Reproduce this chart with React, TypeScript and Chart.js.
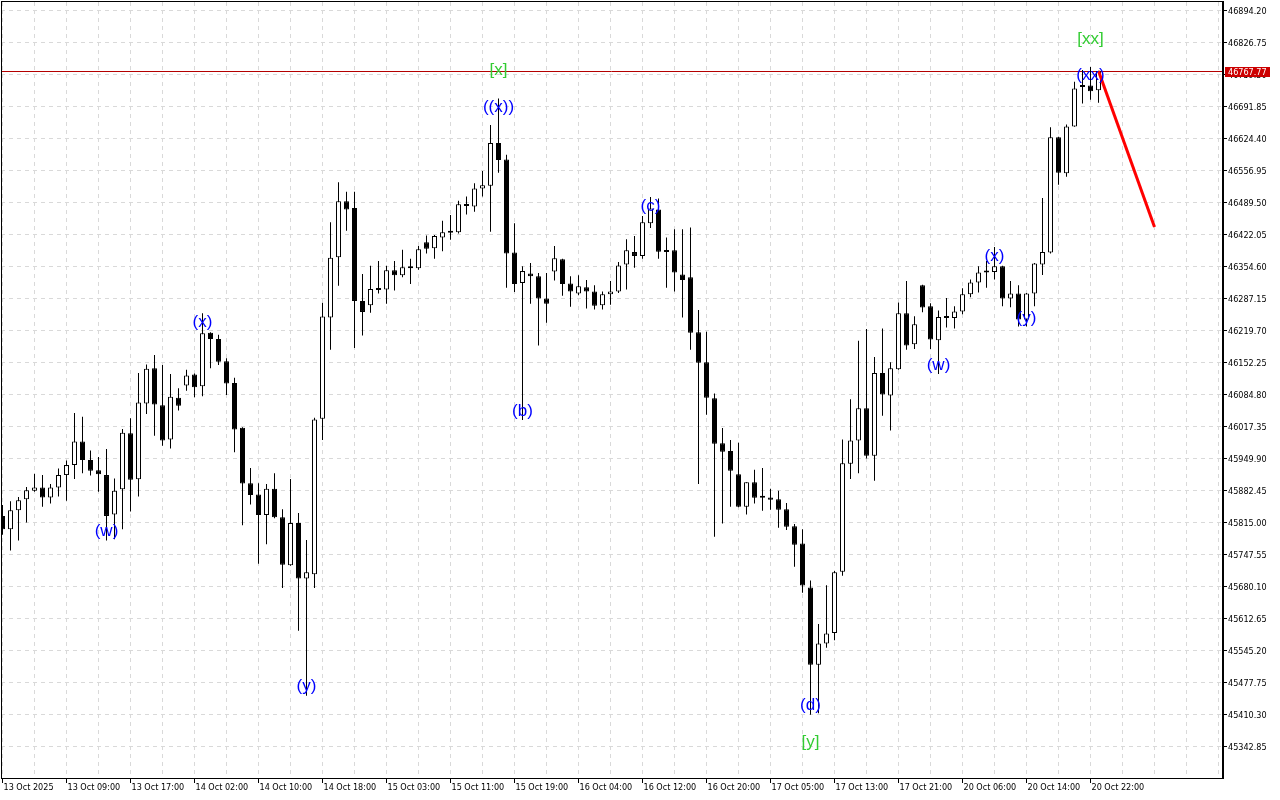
import React, { useEffect, useRef } from "react";
import { Chart, registerables } from "chart.js";

Chart.register(...registerables);

// ---- Data (hourly candles, index 0 = 13 Oct 2025 00:00) ----
const xTickLabels = [
  "13 Oct 2025", "13 Oct 09:00", "13 Oct 17:00", "14 Oct 02:00", "14 Oct 10:00", "14 Oct 18:00",
  "15 Oct 03:00", "15 Oct 11:00", "15 Oct 19:00", "16 Oct 04:00", "16 Oct 12:00", "16 Oct 20:00",
  "17 Oct 05:00", "17 Oct 13:00", "17 Oct 21:00", "20 Oct 06:00", "20 Oct 14:00", "20 Oct 22:00",
];

const yTickLabels = [
  "45342.85", "45410.30", "45477.75", "45545.20", "45612.65", "45680.10", "45747.55", "45815.00",
  "45882.45", "45949.90", "46017.35", "46084.80", "46152.25", "46219.70", "46287.15", "46354.60",
  "46422.05", "46489.50", "46556.95", "46624.40", "46691.85", "46759.30", "46826.75", "46894.20",
];

const opens = [
  45830, 45802, 45842, 45865, 45883, 45890, 45869, 45890, 45916, 45937,
  45987, 45948, 45926, 45916, 45833, 45886, 46004, 45907, 46067, 46141,
  46063, 45991, 46079, 46105, 46128, 46103, 46216, 46203, 46156, 46110,
  46016, 45899, 45875, 45832, 45887, 45827, 45726, 45815, 45698, 45707,
  46035, 46248, 46375, 46493, 46479, 46283, 46274, 46308, 46307, 46348,
  46337, 46354, 46352, 46407, 46394, 46417, 46429, 46428, 46485, 46482,
  46520, 46526, 46616, 46581, 46385, 46321, 46341, 46335, 46288, 46345,
  46371, 46320, 46299, 46312, 46303, 46274, 46297, 46303, 46360, 46386,
  46378, 46447, 46476, 46386, 46390, 46339, 46333, 46217, 46154, 46078,
  45983, 45967, 45918, 45849, 45901, 45871, 45869, 45865, 45844, 45808,
  45772, 45679, 45516, 45561, 45583, 45712, 45940, 45989, 46057, 45957,
  46131, 46084, 46139, 46257, 46192, 46316, 46272, 46200, 46251, 46247,
  46261, 46297, 46322, 46345, 46344, 46356, 46288, 46299, 46244, 46299,
  46360, 46385, 46628, 46552, 46651, 46736, 46737, 46727,
];

const highs = [
  45853, 45861, 45870, 45891, 45919, 45916, 45897, 45930, 45947, 46047,
  46039, 45968, 45954, 45971, 45909, 46013, 46036, 46131, 46149, 46169,
  46148, 46129, 46099, 46138, 46130, 46257, 46217, 46212, 46162, 46121,
  46017, 45931, 45899, 45897, 45920, 45844, 45908, 45836, 45779, 46037,
  46279, 46449, 46533, 46513, 46513, 46340, 46357, 46367, 46357, 46367,
  46391, 46372, 46399, 46421, 46422, 46452, 46464, 46494, 46503, 46531,
  46557, 46654, 46710, 46591, 46447, 46356, 46363, 46342, 46342, 46399,
  46372, 46335, 46337, 46327, 46316, 46303, 46325, 46365, 46413, 46420,
  46462, 46502, 46499, 46417, 46434, 46434, 46438, 46264, 46218, 46088,
  46015, 45990, 45984, 45901, 45927, 45931, 45887, 45883, 45857, 45813,
  45802, 45694, 45602, 45684, 45714, 45991, 46076, 46199, 46224, 46165,
  46225, 46154, 46280, 46325, 46251, 46317, 46278, 46263, 46289, 46272,
  46310, 46328, 46356, 46367, 46397, 46357, 46325, 46316, 46300, 46363,
  46500, 46649, 46629, 46655, 46745, 46770, 46776, 46768,
];

const lows = [
  45790, 45757, 45778, 45816, 45881, 45849, 45856, 45871, 45862, 45908,
  45920, 45915, 45881, 45778, 45781, 45802, 45839, 45871, 46045, 45999,
  45978, 45972, 46052, 46094, 46080, 46082, 46141, 46148, 46085, 45964,
  45810, 45854, 45729, 45770, 45825, 45678, 45725, 45588, 45451, 45678,
  45990, 46180, 46315, 46431, 46184, 46210, 46258, 46299, 46277, 46305,
  46333, 46319, 46349, 46383, 46372, 46388, 46412, 46425, 46465, 46471,
  46503, 46429, 46553, 46311, 46302, 46032, 46277, 46189, 46237, 46326,
  46294, 46271, 46295, 46267, 46265, 46265, 46275, 46300, 46307, 46353,
  46372, 46437, 46372, 46311, 46303, 46248, 46180, 45897, 46043, 45786,
  45814, 45849, 45848, 45833, 45856, 45841, 45843, 45805, 45800, 45723,
  45668, 45411, 45414, 45552, 45568, 45704, 45908, 45920, 45951, 45904,
  46041, 46010, 46138, 46180, 46182, 46259, 46182, 46129, 46227, 46225,
  46255, 46291, 46301, 46311, 46328, 46272, 46270, 46229, 46229, 46272,
  46338, 46383, 46528, 46545, 46650, 46699, 46707, 46701,
];

const closes = [
  45802, 45842, 45863, 45884, 45890, 45869, 45890, 45916, 45937, 45987,
  45948, 45925, 45918, 45830, 45883, 46005, 45906, 46069, 46140, 46065,
  45989, 46081, 46062, 46126, 46101, 46215, 46203, 46155, 46109, 46012,
  45898, 45874, 45832, 45887, 45827, 45727, 45815, 45698, 45711, 46033,
  46250, 46374, 46493, 46476, 46283, 46260, 46308, 46306, 46348, 46337,
  46354, 46352, 46392, 46393, 46420, 46428, 46427, 46487, 46483, 46520,
  46527, 46616, 46580, 46383, 46319, 46346, 46335, 46288, 46277, 46373,
  46319, 46303, 46314, 46303, 46273, 46297, 46303, 46358, 46390, 46378,
  46449, 46478, 46387, 46390, 46343, 46327, 46216, 46153, 46079, 45982,
  45965, 45925, 45849, 45901, 45868, 45868, 45864, 45843, 45807, 45769,
  45683, 45516, 45561, 45582, 45711, 45941, 45989, 46057, 45957, 46131,
  46086, 46141, 46257, 46189, 46234, 46269, 46202, 46249, 46247, 46261,
  46297, 46322, 46343, 46343, 46356, 46288, 46299, 46244, 46299, 46362,
  46386, 46628, 46553, 46651, 46731, 46734, 46725, 46767.77,
];

const currentPrice = 46767.77;

// projected move (red line)
const projectionIndex = [137, 144];
const projectionPrice = [46767.77, 46439];

// Elliott wave labels
const waveText = ["(w)", "(x)", "(y)", "((x))", "[x]", "(b)", "(c)", "(d)", "[y]", "(w)", "(x)", "(y)", "(xx)", "[xx]"];
const waveIndex = [13, 25, 38, 62, 62, 65, 81, 101, 101, 117, 124, 128, 136, 136];
const wavePrice = [45797, 46238, 45471, 46691, 46769, 46050, 46483, 45431, 45353, 46147, 46377, 46247, 46758, 46835];
const waveDegree = ["minor", "minor", "minor", "minor", "major", "minor", "minor", "minor", "major", "minor", "minor", "minor", "minor", "major"];

// ---- Axis ranges / styles ----
const X_MIN = -0.1875;
const X_MAX = 152.4375;
const Y_MIN = 45275.4;
const Y_MAX = 46913.17;
const LABEL_FONT = '17px "Liberation Sans", Arial, sans-serif';
const GRID_COLOR = "#d9d9d9";

// pick a narrow axis font that is actually installed
function pickAxisFont(): { family: string; size: number } {
  const c = document.createElement("canvas").getContext("2d");
  if (!c) return { family: '"Liberation Sans", Arial, sans-serif', size: 10 };
  const sample = "13 Oct 09:00 46894.20";
  const width = (f: string) => {
    c.font = f;
    return c.measureText(sample).width;
  };
  const candidates = [
    { name: "Liberation Sans Narrow", size: 11 },
    { name: "Arial Narrow", size: 11 },
    { name: "DejaVu Sans Condensed", size: 9 },
    { name: "Roboto Condensed", size: 10 },
    { name: "Open Sans Condensed", size: 10 },
  ];
  for (const cand of candidates) {
    const a = width(`${cand.size}px "${cand.name}", monospace`);
    const b = width(`${cand.size}px monospace`);
    const d = width(`${cand.size}px "${cand.name}", serif`);
    const e = width(`${cand.size}px serif`);
    if (a !== b && d !== e) return { family: `"${cand.name}", "Liberation Sans", sans-serif`, size: cand.size };
  }
  return { family: '"Liberation Sans", Arial, sans-serif', size: 10 };
}

function makeOverlay(axisFont: string) {
  return {
    id: "mtOverlay",
    beforeDatasetsDraw(chart: any) {
      const { ctx, chartArea: a, scales } = chart;
      const py = Math.round(scales.y.getPixelForValue(currentPrice)) + 0.5;
      ctx.save();
      ctx.strokeStyle = "#b40000";
      ctx.lineWidth = 1;
      ctx.beginPath();
      ctx.moveTo(a.left, py);
      ctx.lineTo(a.right, py);
      ctx.stroke();
      ctx.restore();
    },
    afterDatasetsDraw(chart: any) {
      const { ctx, chartArea: a, scales } = chart;
      ctx.save();
      ctx.beginPath();
      ctx.rect(a.left, a.top, a.right - a.left, a.bottom - a.top);
      ctx.clip();
      ctx.font = LABEL_FONT;
      ctx.textAlign = "center";
      ctx.textBaseline = "middle";
      waveText.forEach((t, i) => {
        ctx.fillStyle = waveDegree[i] === "major" ? "#33cc33" : "#0000ff";
        ctx.fillText(t, scales.x.getPixelForValue(waveIndex[i]), scales.y.getPixelForValue(wavePrice[i]));
      });
      ctx.restore();
    },
    afterDraw(chart: any) {
      const { ctx, chartArea: a, scales } = chart;
      ctx.save();
      ctx.fillStyle = "#000";
      ctx.fillRect(a.left, a.top - 1, a.right - a.left, 1);
      ctx.fillRect(a.left, a.top - 1, 1, a.bottom - a.top + 1);
      ctx.fillRect(a.left, a.bottom - 1, a.right - a.left, 1);
      ctx.fillRect(a.right, a.top - 1, 2, a.bottom - a.top + 1);
      const py = Math.round(scales.y.getPixelForValue(currentPrice));
      ctx.fillStyle = "#cc0000";
      ctx.fillRect(a.right + 3, py - 4, 45, 10);
      ctx.fillStyle = "#ffffff";
      ctx.font = axisFont;
      ctx.textAlign = "left";
      ctx.textBaseline = "middle";
      ctx.fillText(currentPrice.toFixed(2), a.right + 6, py + 1.5);
      ctx.restore();
    },
  };
}

export default function App() {
  const ref = useRef<HTMLCanvasElement>(null);

  useEffect(() => {
    const canvas = ref.current;
    if (!canvas) return;
    const af = pickAxisFont();
    const axisFontStr = `${af.size}px ${af.family}`;
    const idx = opens.map((_, i) => i);
    const bodyData = idx.map((i) => ({ x: i, y: [opens[i], closes[i]] }));
    const wickData = idx.map((i) => ({ x: i, y: [lows[i], highs[i]] }));
    const projection = projectionIndex.map((k, i) => ({ x: k, y: projectionPrice[i] }));
    const gridIdx: number[] = [];
    for (let k = 0; k <= 152; k += 4) gridIdx.push(k);

    const chart = new Chart(canvas, {
      type: "bar",
      data: {
        datasets: [
          {
            type: "line",
            data: projection as any,
            borderColor: "#ff0000",
            borderWidth: 3,
            pointRadius: 0,
            order: 0,
          } as any,
          {
            type: "bar",
            data: bodyData as any,
            backgroundColor: idx.map((i) => (closes[i] >= opens[i] ? "#ffffff" : "#000000")),
            borderColor: "#000000",
            borderWidth: 1,
            borderSkipped: false,
            grouped: false,
            maxBarThickness: 5,
            minBarLength: 2,
            inflateAmount: 0,
            order: 1,
          } as any,
          {
            type: "bar",
            data: wickData as any,
            backgroundColor: "#000000",
            borderWidth: 0,
            grouped: false,
            maxBarThickness: 1,
            inflateAmount: 0,
            order: 2,
          } as any,
        ],
      },
      options: {
        animation: false,
        responsive: true,
        maintainAspectRatio: false,
        devicePixelRatio: 1,
        events: [],
        layout: { autoPadding: false, padding: { left: 1, top: 2, right: 0, bottom: 0 } },
        plugins: { legend: { display: false }, tooltip: { enabled: false } },
        scales: {
          x: {
            type: "linear",
            min: X_MIN,
            max: X_MAX,
            offset: false,
            bounds: "data",
            afterBuildTicks: (s: any) => {
              s.ticks = gridIdx.map((v) => ({ value: v }));
            },
            afterFit: (s: any) => {
              s.height = 21;
              s.paddingLeft = 0;
              s.paddingRight = 0;
            },
            grid: {
              offset: false,
              color: GRID_COLOR,
              lineWidth: 1,
              drawTicks: true,
              tickLength: 4,
              tickColor: (c: any) =>
                c.tick && c.tick.value % 8 === 0 && c.tick.value / 8 < xTickLabels.length ? "#000000" : "rgba(0,0,0,0)",
            },
            border: { display: false, dash: [4, 4] },
            ticks: {
              autoSkip: false,
              maxRotation: 0,
              minRotation: 0,
              align: "start",
              padding: 0,
              labelOffset: 1,
              color: "#000000",
              font: { family: af.family, size: af.size, lineHeight: 1 },
              callback: (v: any) => {
                const n = Number(v);
                return n % 8 === 0 && n / 8 < xTickLabels.length ? xTickLabels[n / 8] : "";
              },
            },
          } as any,
          y: {
            type: "linear",
            position: "right",
            min: Y_MIN,
            max: Y_MAX,
            bounds: "data",
            afterBuildTicks: (s: any) => {
              s.ticks = yTickLabels.map((l) => ({ value: parseFloat(l) }));
            },
            afterFit: (s: any) => {
              s.width = 58;
              s.paddingTop = 0;
              s.paddingBottom = 0;
            },
            grid: {
              color: GRID_COLOR,
              lineWidth: 1,
              drawTicks: true,
              tickLength: 5,
              tickColor: "#000000",
            },
            border: { display: false, dash: [4, 4] },
            ticks: {
              autoSkip: false,
              padding: 1,
              labelOffset: 1,
              color: "#000000",
              font: { family: af.family, size: af.size, lineHeight: 1 },
              callback: (_v: any, i: number) => yTickLabels[i],
            },
          } as any,
        },
      } as any,
      plugins: [makeOverlay(axisFontStr)],
    });
    return () => chart.destroy();
  }, []);

  return (
    <div style={{ position: "absolute", left: 0, top: 0, width: 1280, height: 800, background: "#ffffff" }}>
      <canvas ref={ref} />
    </div>
  );
}
